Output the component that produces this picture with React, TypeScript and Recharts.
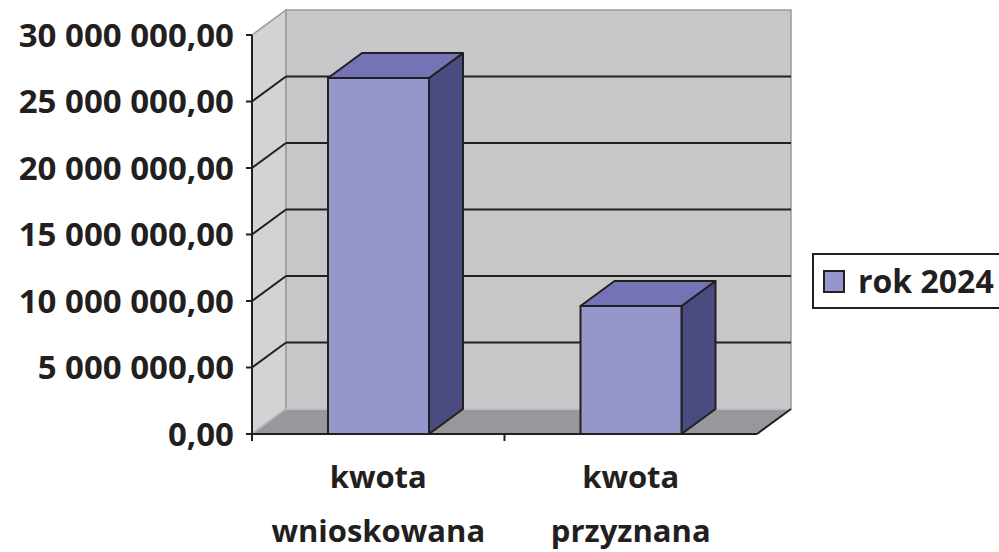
import { Bar, BarChart, CartesianGrid, XAxis, YAxis } from "recharts";

const categories = ["kwota wnioskowana", "kwota przyznana"];
const values = [26770000, 9620000];
const yTicks = [0, 5000000, 10000000, 15000000, 20000000, 25000000, 30000000];
const seriesName = "rok 2024";

const data = categories.map((name, i) => ({ name, value: values[i] }));

const W = 999;
const H = 552;
const MARGIN = { top: 35, right: 242, bottom: 0, left: 0 };
const X_AXIS_H = 118;
const PLOT_TOP = MARGIN.top;
const PLOT_BOTTOM = H - X_AXIS_H;
const DX = 34;
const DY = 25;
const INK = "#231f20";
const FONT = "'Open Sans', sans-serif";

function formatPl(v: number) {
  const [intPart, dec] = v.toFixed(2).split(".");
  return intPart.replace(/\B(?=(\d{3})+(?!\d))/g, " ") + "," + dec;
}

// walls + floor drawn once, then the grid lines on back and side walls
function GridLine(props: any) {
  const { x1, x2, y1, index } = props;
  const inner = Math.abs(y1 - PLOT_TOP) > 1 && Math.abs(y1 - PLOT_BOTTOM) > 1;
  return (
    <g>
      {index === 0 && (
        <g>
          <polygon
            points={`${x1},${PLOT_TOP} ${x1 + DX},${PLOT_TOP - DY} ${x1 + DX},${PLOT_BOTTOM - DY} ${x1},${PLOT_BOTTOM}`}
            fill="#d2d3d5"
            stroke="#9a9b9d"
            strokeWidth={1.5}
          />
          <rect
            x={x1 + DX}
            y={PLOT_TOP - DY}
            width={x2 - x1}
            height={PLOT_BOTTOM - PLOT_TOP}
            fill="#c6c7c9"
            stroke="#9a9b9d"
            strokeWidth={1.5}
          />
          <polygon
            points={`${x1},${PLOT_BOTTOM} ${x1 + DX},${PLOT_BOTTOM - DY} ${x2 + DX},${PLOT_BOTTOM - DY} ${x2},${PLOT_BOTTOM}`}
            fill="#97989b"
          />
          <line x1={x1 + DX} y1={PLOT_BOTTOM - DY} x2={x2 + DX} y2={PLOT_BOTTOM - DY} stroke="#c9cacc" strokeWidth={1.5} />
          <line x1={x1} y1={PLOT_BOTTOM} x2={x1 + DX} y2={PLOT_BOTTOM - DY} stroke="#b5b6b8" strokeWidth={1.5} />
          <line x1={x2} y1={PLOT_BOTTOM} x2={x2 + DX} y2={PLOT_BOTTOM - DY} stroke={INK} strokeWidth={2} />
        </g>
      )}
      {inner && (
        <g stroke={INK} strokeWidth={2}>
          <line x1={x1} y1={y1} x2={x1 + DX} y2={y1 - DY} />
          <line x1={x1 + DX} y1={y1 - DY} x2={x2 + DX} y2={y1 - DY} />
        </g>
      )}
    </g>
  );
}

function Bar3D(props: any) {
  const { x, y, width, height } = props;
  if (height == null || height <= 0) return null;
  const top = `${x},${y} ${x + DX},${y - DY} ${x + width + DX},${y - DY} ${x + width},${y}`;
  const side = `${x + width},${y} ${x + width + DX},${y - DY} ${x + width + DX},${y + height - DY} ${x + width},${y + height}`;
  return (
    <g stroke={INK} strokeWidth={2} strokeLinejoin="round">
      <polygon points={side} fill="#4a4b80" />
      <polygon points={top} fill="#7373b5" />
      <rect x={x} y={y} width={width} height={height} fill="#9596c9" />
    </g>
  );
}

function CategoryTick(props: any) {
  const { x, y, payload } = props;
  const words = String(payload.value).split(" ");
  const left = x - (payload.offset || 0);
  return (
    <g>
      <line x1={left} y1={y} x2={left} y2={y + 7} stroke={INK} strokeWidth={2} />
      {words.map((w, i) => (
        <text
          key={w + i}
          x={x}
          y={y + 54 + i * 54}
          textAnchor="middle"
          fill={INK}
          fontFamily={FONT}
          fontWeight={700}
          fontSize={31}
        >
          {w}
        </text>
      ))}
    </g>
  );
}

export default function App() {
  return (
    <div style={{ position: "absolute", left: 0, top: 0, width: W, height: H, background: "#fff" }}>
      <BarChart width={W} height={H} data={data} margin={MARGIN} barSize={101}>
        <CartesianGrid horizontal={GridLine} vertical={false} />
        <YAxis
          width={252}
          domain={[0, 30000000]}
          ticks={yTicks}
          interval={0}
          tickFormatter={formatPl}
          axisLine={{ stroke: INK, strokeWidth: 2 }}
          tickLine={{ stroke: INK, strokeWidth: 2 }}
          tickSize={6}
          tickMargin={12}
          tick={{ fill: INK, fontFamily: FONT, fontWeight: 700, fontSize: 33 }}
        />
        <XAxis
          dataKey="name"
          height={X_AXIS_H}
          interval={0}
          tickSize={0}
          tickMargin={0}
          tickLine={false}
          axisLine={{ stroke: INK, strokeWidth: 2 }}
          tick={<CategoryTick />}
        />
        <Bar dataKey="value" name={seriesName} shape={<Bar3D />} isAnimationActive={false} />
      </BarChart>
      <div
        style={{
          position: "absolute",
          left: 812,
          top: 253,
          width: 200,
          height: 56,
          border: `2px solid ${INK}`,
          boxSizing: "border-box",
          display: "flex",
          alignItems: "center",
          fontFamily: FONT,
          fontWeight: 700,
          fontSize: 32,
          color: INK,
        }}
      >
        <span
          style={{
            display: "inline-block",
            width: 18,
            height: 19,
            marginLeft: 9,
            marginRight: 13,
            background: "#9596c9",
            border: `2px solid ${INK}`,
          }}
        />
        <span style={{ lineHeight: "40px" }}>{seriesName}</span>
      </div>
    </div>
  );
}
